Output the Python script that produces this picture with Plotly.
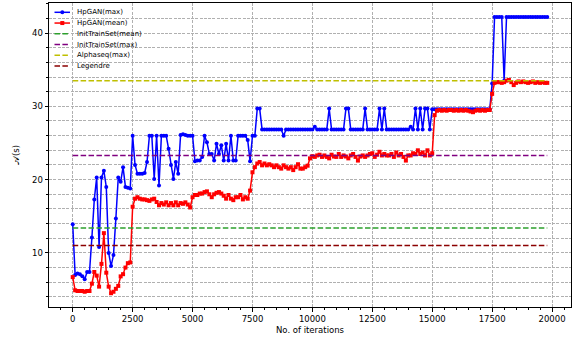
import plotly.graph_objects as go

# Iteration grid (one evaluation every 100 iterations)
iterations = list(range(0, 19801, 100))

hpgan_max = [
    13.9, 7.0, 7.2, 7.1, 6.8, 6.4, 7.4, 7.4, 12.1, 17.3,
    20.3, 10.8, 20.3, 21.2, 19.0, 10.0, 8.2, 9.7, 14.7, 20.3,
    19.7, 21.7, 19.0, 18.9, 18.8, 26.0, 22.0, 20.8, 20.8, 20.8,
    20.9, 22.4, 26.0, 26.0, 20.1, 26.0, 19.2, 26.0, 26.0, 26.0,
    24.2, 22.0, 20.1, 22.4, 20.8, 26.1, 26.2, 26.1, 26.0, 26.0,
    26.0, 22.5, 22.6, 22.6, 23.1, 26.0, 25.1, 23.5, 23.5, 22.6,
    24.9, 23.5, 24.7, 22.6, 24.9, 22.6, 26.0, 22.6, 22.6, 26.0,
    26.0, 26.0, 26.0, 25.4, 22.5, 26.0, 26.0, 29.7, 29.7, 26.85,
    26.85, 26.85, 26.85, 26.85, 26.85, 26.85, 26.85, 26.85, 26.0, 26.85,
    26.85, 26.85, 26.85, 26.85, 26.85, 26.85, 26.85, 26.85, 26.85, 26.85,
    26.85, 27.2, 26.85, 26.85, 26.85, 26.85, 26.85, 29.7, 26.85, 26.85,
    26.85, 26.85, 26.85, 26.85, 29.7, 29.7, 26.85, 26.85, 26.85, 26.85,
    26.85, 26.85, 29.7, 26.85, 26.85, 26.85, 26.85, 26.85, 29.7, 26.85,
    29.7, 26.85, 26.85, 26.85, 26.85, 26.85, 26.85, 26.85, 26.85, 26.85,
    26.85, 27.2, 26.85, 29.7, 26.85, 29.7, 26.85, 29.7, 29.7, 26.85,
    29.6, 29.6, 29.6, 29.6, 29.6, 29.6, 29.6, 29.6, 29.6, 29.6,
    29.6, 29.6, 29.6, 29.6, 29.6, 29.6, 29.6, 29.6, 29.6, 29.6,
    29.6, 29.6, 29.6, 29.6, 29.6, 33.1, 42.2, 42.2, 42.2, 42.2,
    33.5, 42.2, 42.2, 42.2, 42.2, 42.2, 42.2, 42.2, 42.2, 42.2,
    42.2, 42.2, 42.2, 42.2, 42.2, 42.2, 42.2, 42.2, 42.2,
]

hpgan_mean = [
    6.7, 4.9, 4.8, 4.8, 4.8, 4.7, 4.8, 4.8, 5.8, 7.4,
    6.9, 5.4, 8.5, 12.7, 7.3, 5.4, 4.5, 4.7, 5.1, 5.5,
    6.8, 7.1, 8.0, 8.6, 8.7, 16.3, 17.4, 17.6, 17.4, 17.3,
    17.3, 17.2, 17.1, 17.3, 17.4, 16.95, 16.5, 16.8, 16.6, 16.9,
    16.5, 16.8, 16.5, 16.9, 16.5, 16.8, 16.7, 16.9, 16.6, 16.2,
    17.6, 17.9, 17.9, 18.1, 18.1, 18.3, 18.4, 18.0, 17.6, 18.0,
    18.2, 18.3, 18.1, 17.8, 17.4, 17.9, 17.4, 17.2, 17.6, 17.6,
    17.9, 17.3, 17.6, 17.4, 18.5, 21.0, 21.7, 22.2, 22.4, 21.95,
    22.2, 21.95, 22.1, 21.95, 21.7, 21.95, 21.7, 21.5, 21.95, 21.7,
    21.5, 21.7, 21.3, 21.7, 22.1, 21.5, 21.5, 21.7, 21.9, 22.9,
    23.2, 23.1, 23.3, 23.4, 23.1, 23.3, 23.1, 22.9, 23.4, 23.15,
    23.1, 23.5, 23.1, 23.3, 23.15, 22.9, 23.3, 23.5, 23.1, 22.6,
    23.15, 23.3, 23.1, 23.3, 23.5, 23.6, 23.1, 23.4, 23.8, 23.3,
    23.5, 23.3, 23.3, 23.5, 23.1, 23.7, 23.3, 23.5, 23.1, 22.6,
    23.3, 23.3, 23.6, 23.5, 24.0, 23.5, 23.7, 23.3, 24.0, 23.3,
    23.6, 28.8, 29.4, 29.5, 29.4, 29.5, 29.4, 29.5, 29.5, 29.4,
    29.5, 29.4, 29.5, 29.4, 29.5, 29.4, 29.3, 29.2, 29.4, 29.5,
    29.4, 29.5, 29.4, 29.5, 29.5, 31.7, 33.2, 33.3, 33.3, 33.2,
    33.3, 33.5, 33.6, 33.3, 32.9, 33.2, 33.4, 33.3, 33.4, 33.3,
    33.2, 33.3, 33.4, 33.2, 33.3, 33.2, 33.3, 33.2, 33.2,
]

baseline_names = ["InitTrainSet(mean)", "InitTrainSet(max)", "Alphaseq(max)", "Legendre"]
baseline_values = [13.4, 23.3, 33.5, 11.0]
baseline_colors = ["#2ca02c", "#800080", "#bfbf00", "#8b0000"]

x_ticks = [0, 2500, 5000, 7500, 10000, 12500, 15000, 17500, 20000]
y_ticks = [10, 20, 30, 40]

FONT = "DejaVu Sans"
DASH = "5.5px,2.4px"
GRID_DASH = "3px,1.3px"

fig = go.Figure()
fig.add_trace(go.Scatter(
    x=iterations, y=hpgan_max, mode="lines+markers", name="HpGAN(max)",
    line=dict(color="#0000ff", width=1.5),
    marker=dict(symbol="circle", size=4, color="#0000ff"),
    showlegend=False,
))
fig.add_trace(go.Scatter(
    x=iterations, y=hpgan_mean, mode="lines+markers", name="HpGAN(mean)",
    line=dict(color="#ff0000", width=1.5),
    marker=dict(symbol="square", size=4, color="#ff0000"),
    showlegend=False,
))
for name, val, col in zip(baseline_names, baseline_values, baseline_colors):
    fig.add_trace(go.Scatter(
        x=[iterations[0], iterations[-1]], y=[val, val], mode="lines", name=name,
        line=dict(color=col, width=1.5, dash=DASH), showlegend=False,
    ))

# Plot area geometry (pixels)
W_FIG, H_FIG = 580, 339
ML, MR, MT, MB = 49, 9, 3, 32
PW, PH = W_FIG - ML - MR, H_FIG - MT - MB


def px_x(px):
    return (px - ML) / PW


def px_y(py):
    return 1 - (py - MT) / PH


# Compact legend in the upper-left corner
legend_entries = [
    ("HpGAN(max)", "#0000ff", "solid", "circle"),
    ("HpGAN(mean)", "#ff0000", "solid", "square"),
] + [(n, c, DASH, None) for n, c in zip(baseline_names, baseline_colors)]

shapes = []
annotations = []
for k, (label, col, dash, sym) in enumerate(legend_entries):
    py = 12.3 + k * 10.75
    shapes.append(dict(
        type="line", xref="paper", yref="paper",
        x0=px_x(54.5), x1=px_x(70), y0=px_y(py), y1=px_y(py),
        line=dict(color=col, width=1.5, dash=dash),
    ))
    if sym is not None:
        shapes.append(dict(
            type="circle" if sym == "circle" else "rect",
            xref="paper", yref="paper",
            xsizemode="pixel", ysizemode="pixel",
            xanchor=px_x(62.3), yanchor=px_y(py),
            x0=-2, x1=2, y0=-2, y1=2,
            fillcolor=col, line=dict(color=col, width=0),
        ))
    annotations.append(dict(
        text=label, xref="paper", yref="paper",
        x=px_x(74.5), y=px_y(py), xanchor="left", yanchor="middle",
        showarrow=False, font=dict(family=FONT, size=7, color="#000000"),
    ))

fig.update_layout(
    width=W_FIG, height=H_FIG,
    margin=dict(l=ML, r=MR, t=MT, b=MB),
    paper_bgcolor="white", plot_bgcolor="white",
    font=dict(family=FONT, size=8.5, color="black"),
    shapes=shapes, annotations=annotations,
    showlegend=False,
)
fig.update_xaxes(
    range=[-990, 20790], tickvals=x_ticks, tickformat="d",
    showline=True, mirror=True, linecolor="black", linewidth=1,
    ticks="outside", ticklen=3.5, tickcolor="black", tickwidth=1,
    showgrid=True, gridcolor="#b0b0b0", gridwidth=0.8, griddash=GRID_DASH,
    minor=dict(dtick=500, tick0=0, ticks="outside", ticklen=2, tickcolor="black", showgrid=False),
    zeroline=False,
    title=dict(text="No. of iterations", font=dict(size=8.5), standoff=4),
)
fig.update_yaxes(
    range=[2.62, 44.1], tickvals=y_ticks,
    showline=True, mirror=True, linecolor="black", linewidth=1,
    ticks="outside", ticklen=3.5, tickcolor="black", tickwidth=1,
    showgrid=True, gridcolor="#b0b0b0", gridwidth=0.8, griddash=GRID_DASH,
    minor=dict(dtick=2, tick0=0, ticks="outside", ticklen=2, tickcolor="black",
               showgrid=True, gridcolor="#b0b0b0", gridwidth=0.8, griddash=GRID_DASH),
    zeroline=False,
    title=dict(text="𝒜(s)", font=dict(size=8.5), standoff=10),
)

fig.write_html("out.html")
